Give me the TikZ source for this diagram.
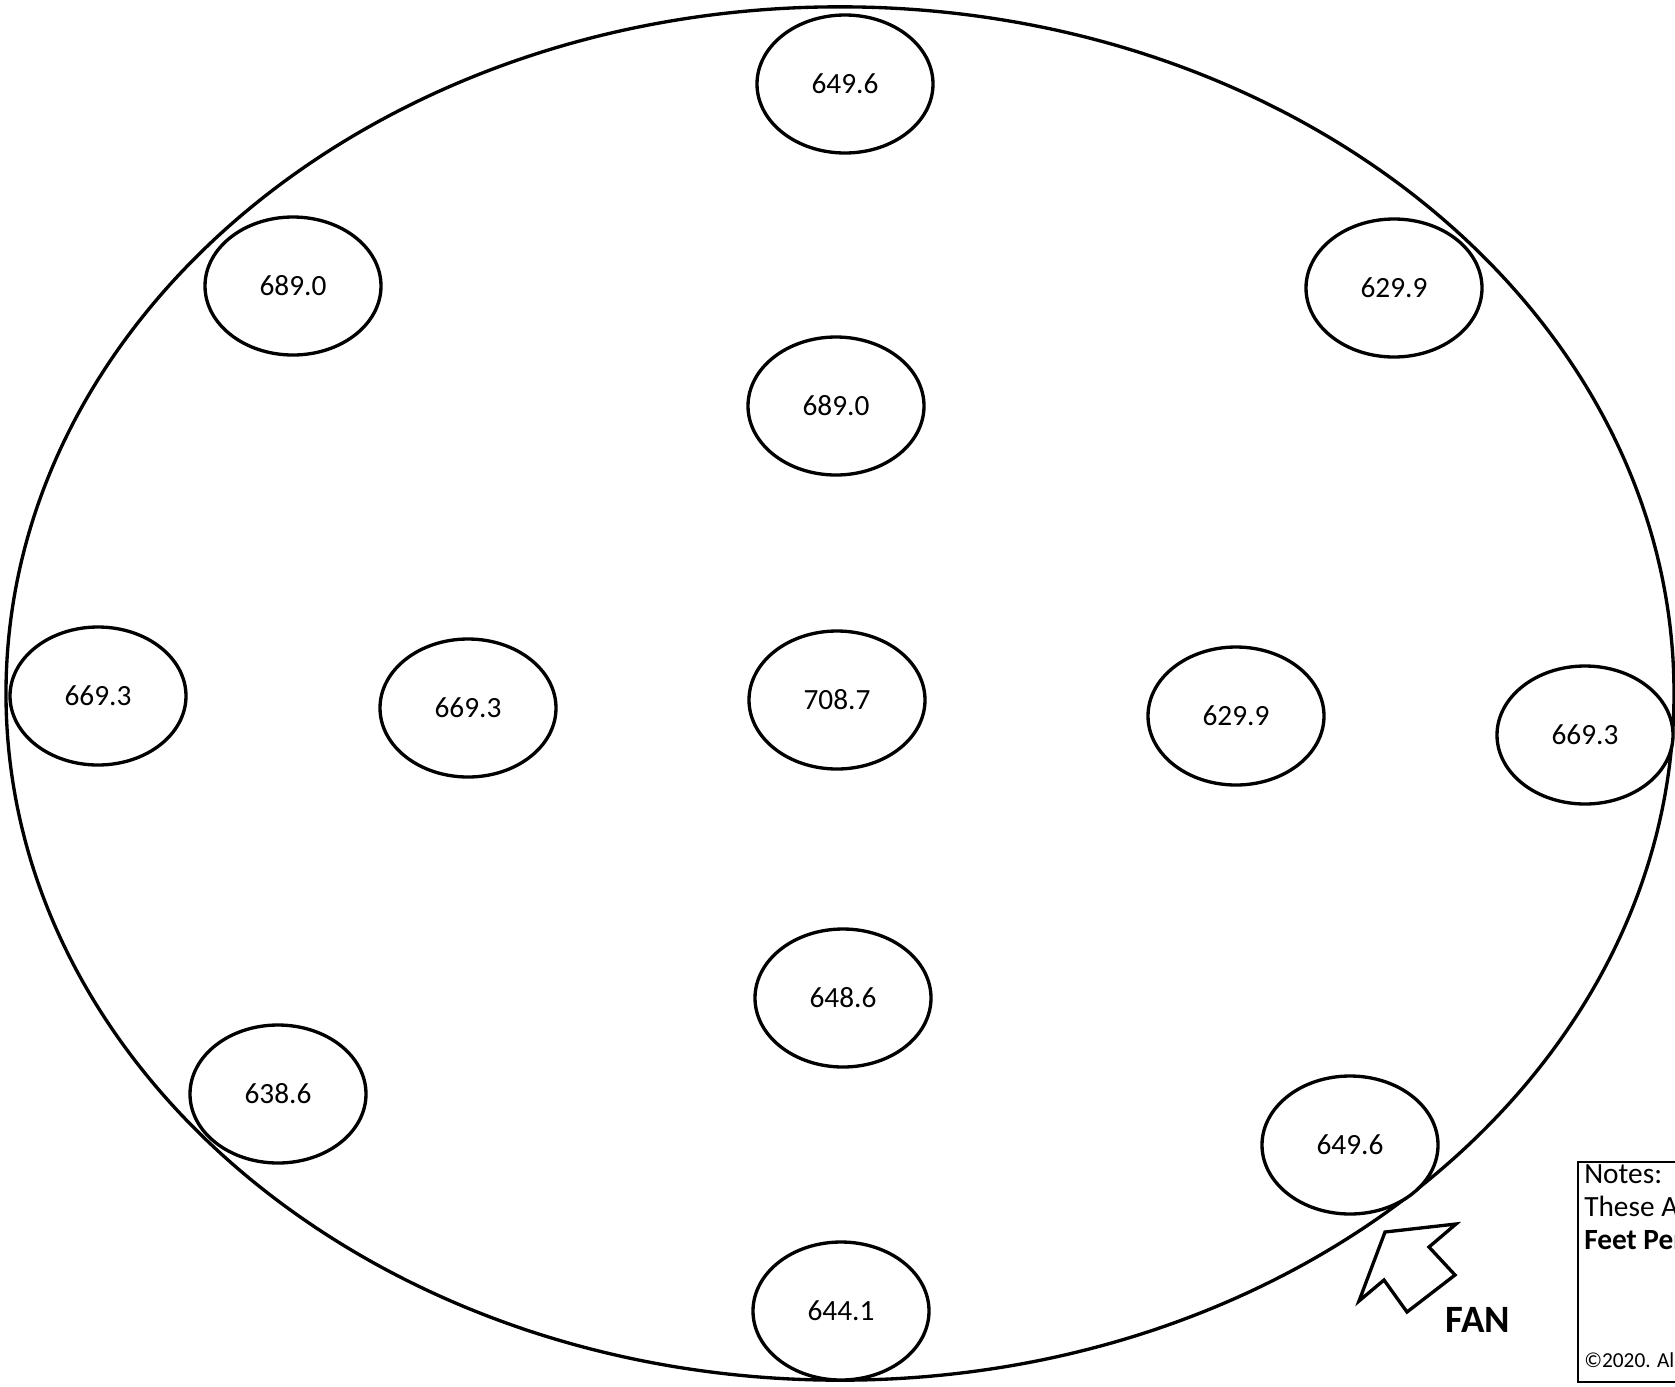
\documentclass[tikz,border=0pt]{standalone}
\usepackage{fontspec}
\setmainfont{Carlito}
\usepackage{tikz}
\usetikzlibrary{shapes,positioning}

\begin{document}
\begin{tikzpicture}[
    x=0.75pt, y=-0.75pt,
    field/.style={ellipse, draw, line width=2.5pt, minimum width=1251pt, minimum height=1030pt, inner sep=0pt},
    reading/.style={ellipse, draw, line width=2.5pt, fill=white, minimum width=132pt, minimum height=103.5pt, inner sep=0pt, font=\fontsize{22}{26}\selectfont},
    note/.style={anchor=base west, inner sep=0pt, font=\fontsize{22}{26}\selectfont}
]
\useasboundingbox (0,0) rectangle (1675,1386);
\clip (0,0) rectangle (1675,1386);

% Room outline
\node[field] (room) at (840,693.5) {};

% Top row
\node[reading] (topmid) at (845,84) {649.6};
\node[reading] (topleft) at (293,286) {689.0};
\node[reading] (topright) at (1394,288) {629.9};
\node[reading] (upmid) at (836,406) {689.0};

% Middle row
\node[reading] (farleft) at (98,696) {669.3};
\node[reading] (midleft) at (468,708) {669.3};
\node[reading] (center) at (837,700) {708.7};
\node[reading] (midright) at (1236,716) {629.9};
\node[reading] (farright) at (1585,735) {669.3};

% Bottom row
\node[reading] (lowmid) at (843,998) {648.6};
\node[reading] (botleft) at (278,1094) {638.6};
\node[reading] (botright) at (1350,1145) {649.6};
\node[reading] (botmid) at (841,1311) {644.1};

% Fan
\draw[line width=2.5pt, line join=miter] (1385,1232) -- (1456,1224) -- (1429,1247) -- (1455,1275)
    -- (1407,1312) -- (1384,1280) -- (1359,1301) -- cycle;
\node[font=\bfseries\fontsize{29}{34}\selectfont] (fan) at (1478,1320) {FAN};

% Notes
\draw[line width=1.5pt] (1578,1162) rectangle (1700,1382);
\node[note] (notes) at (1584,1183) {Notes:};
\node[note] (these) at (1584,1216) {These Are};
\node[note, font=\bfseries\fontsize{22}{26}\selectfont] (feet) at (1584,1249) {Feet Per};
\node[note, font=\fontsize{16}{19}\selectfont] (copy) at (1584,1367) {©2020. All};

\end{tikzpicture}
\end{document}
